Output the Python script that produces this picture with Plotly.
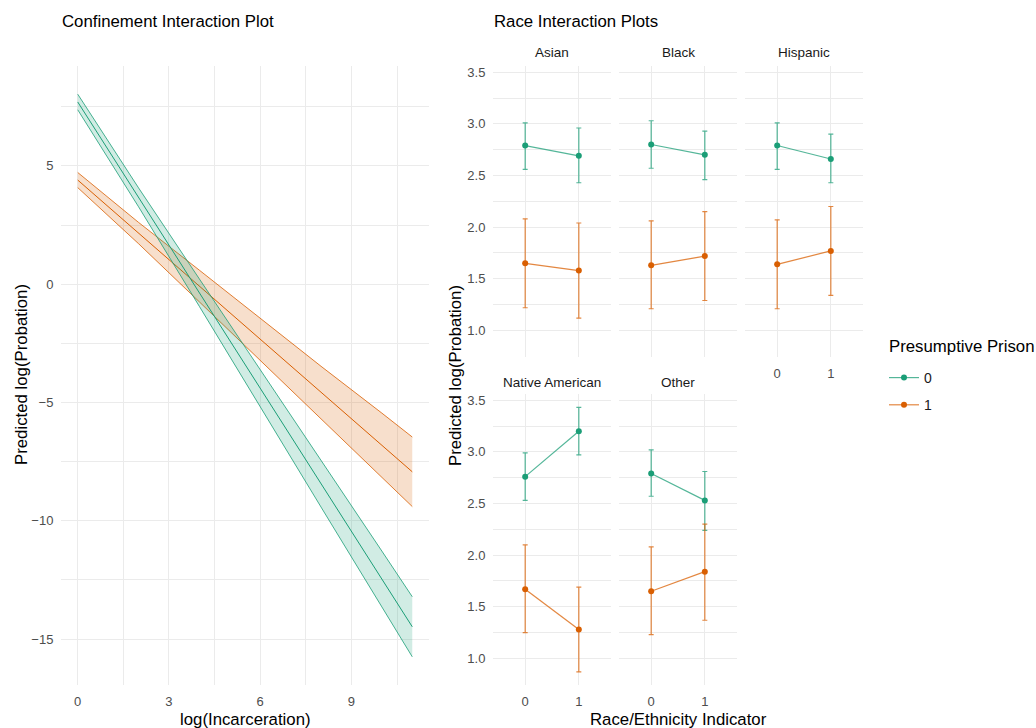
import plotly.graph_objects as go

# ---------------- data: left panel (confinement interaction) ----------------
incar_x = [0, 2, 4, 6, 8, 10, 11]
pp0_fit = [7.70, 3.67, -0.36, -4.40, -8.43, -12.46, -14.48]
pp0_upper = [8.03, 4.07, 0.22, -3.60, -7.44, -11.28, -13.21]
pp0_lower = [7.37, 3.27, -0.94, -5.20, -9.42, -13.64, -15.75]
pp1_fit = [4.40, 2.16, -0.08, -2.33, -4.57, -6.81, -7.93]
pp1_upper = [4.72, 2.61, 0.59, -1.45, -3.47, -5.45, -6.46]
pp1_lower = [4.08, 1.71, -0.75, -3.21, -5.67, -8.17, -9.40]
left_xticks = [0, 3, 6, 9]
left_yticks = [-15, -10, -5, 0, 5]

# ---------------- data: right panels (race interaction) ----------------
races = ["Asian", "Black", "Hispanic", "Native American", "Other"]
race_indicator = [0, 1]
race_ticklabels = ["0", "1"]
pp0_est = [[2.79, 2.69], [2.80, 2.70], [2.79, 2.66], [2.76, 3.20], [2.79, 2.53]]
pp0_lo = [[2.56, 2.43], [2.57, 2.46], [2.56, 2.43], [2.53, 2.97], [2.57, 2.24]]
pp0_hi = [[3.01, 2.96], [3.03, 2.93], [3.01, 2.90], [2.99, 3.43], [3.02, 2.81]]
pp1_est = [[1.65, 1.58], [1.63, 1.72], [1.64, 1.77], [1.67, 1.28], [1.65, 1.84]]
pp1_lo = [[1.22, 1.12], [1.21, 1.29], [1.21, 1.34], [1.25, 0.87], [1.23, 1.37]]
pp1_hi = [[2.08, 2.04], [2.06, 2.15], [2.07, 2.20], [2.10, 1.69], [2.08, 2.30]]
right_yticks = [1.0, 1.5, 2.0, 2.5, 3.0, 3.5]
right_yticklabels = ["1.0", "1.5", "2.0", "2.5", "3.0", "3.5"]
legend_labels = ["0", "1"]

# ---------------- styling ----------------
W, H = 1036, 728
FONT = "Liberation Sans, Arial, sans-serif"
GREEN = "#1B9E77"
ORANGE = "#D95F02"
GREEN_FILL = "rgba(27,158,119,0.2)"
ORANGE_FILL = "rgba(217,95,2,0.2)"
GREEN_SOFT = "rgba(27,158,119,0.75)"
ORANGE_SOFT = "rgba(217,95,2,0.75)"
GRID = "#EBEBEB"
TICKC = "#4D4D4D"
TITLE_SIZE = 16.8


def px(p):
    return p / W


def py(p):
    return 1 - p / H


fig = go.Figure()

# ---------- left panel ----------
for fit, up, lo, col, fill in [
    (pp1_fit, pp1_upper, pp1_lower, ORANGE, ORANGE_FILL),
    (pp0_fit, pp0_upper, pp0_lower, GREEN, GREEN_FILL),
]:
    fig.add_trace(go.Scatter(x=incar_x + incar_x[::-1], y=up + lo[::-1], fill="toself",
                             fillcolor=fill, line=dict(width=0), mode="lines",
                             showlegend=False, hoverinfo="skip", xaxis="x", yaxis="y"))
    for arr, w in [(up, 0.8), (lo, 0.8), (fit, 1.0)]:
        fig.add_trace(go.Scatter(x=incar_x, y=arr, mode="lines", line=dict(color=col, width=w),
                                 showlegend=False, xaxis="x", yaxis="y"))

# ---------- right facets ----------
cols = [(493, 611), (619, 737), (745, 863)]
rows = [(66, 357), (394, 685)]
facet_pos = [(0, 0), (0, 1), (0, 2), (1, 0), (1, 1)]

for i, race in enumerate(races):
    ax = i + 2
    for est, lo, hi, col, soft, name in [
        (pp0_est[i], pp0_lo[i], pp0_hi[i], GREEN, GREEN_SOFT, legend_labels[0]),
        (pp1_est[i], pp1_lo[i], pp1_hi[i], ORANGE, ORANGE_SOFT, legend_labels[1]),
    ]:
        fig.add_trace(go.Scatter(
            x=race_indicator, y=est, mode="lines+markers", name=name,
            legendgroup=name, showlegend=(i == 0),
            line=dict(color=soft, width=1.2), marker=dict(color=col, size=6),
            error_y=dict(type="data", symmetric=False,
                         array=[h - e for h, e in zip(hi, est)],
                         arrayminus=[e - l for e, l in zip(est, lo)],
                         color=soft, thickness=1.2, width=2.5),
            xaxis=f"x{ax}", yaxis=f"y{ax}"))

layout = dict(
    width=W, height=H, margin=dict(l=0, r=0, t=0, b=0),
    paper_bgcolor="white", plot_bgcolor="white",
    font=dict(family=FONT, size=13, color="#1A1A1A"),
    showlegend=True,
    legend=dict(x=px(884), y=py(362), xanchor="left", yanchor="top",
                font=dict(size=14, color="#1A1A1A"), tracegroupgap=6,
                bgcolor="rgba(0,0,0,0)"),
)

common = dict(showline=False, zeroline=False, gridcolor=GRID, gridwidth=1.1,
              ticks="outside", tickcolor="rgba(0,0,0,0)", ticklen=4,
              tickfont=dict(size=13, color=TICKC))

layout["xaxis"] = dict(domain=[px(61), px(429)], range=[-0.55, 11.55], anchor="y",
                       tickvals=left_xticks,
                       minor=dict(tickvals=[1.5, 4.5, 7.5, 10.5], showgrid=True, gridcolor=GRID, gridwidth=0.8),
                       **common)
layout["yaxis"] = dict(domain=[py(685), py(66)], range=[-16.94, 9.22], anchor="x",
                       tickvals=left_yticks,
                       minor=dict(tickvals=[-12.5, -7.5, -2.5, 2.5, 7.5], showgrid=True, gridcolor=GRID, gridwidth=0.8),
                       **common)

for i, race in enumerate(races):
    ax = i + 2
    r, c = facet_pos[i]
    x0, x1 = cols[c]
    y0, y1 = rows[r]
    show_x = (r == 1) or (i == 2)
    show_y = (c == 0)
    layout[f"xaxis{ax}"] = dict(domain=[px(x0), px(x1)], range=[-0.6, 1.6], anchor=f"y{ax}",
                                tickvals=race_indicator, ticktext=race_ticklabels,
                                showticklabels=show_x, **common)
    layout[f"yaxis{ax}"] = dict(domain=[py(y1), py(y0)], range=[0.743, 3.56], anchor=f"x{ax}",
                                tickvals=right_yticks, ticktext=right_yticklabels,
                                showticklabels=show_y,
                                minor=dict(tickvals=[0.75, 1.25, 1.75, 2.25, 2.75, 3.25], showgrid=True,
                                           gridcolor=GRID, gridwidth=0.8),
                                **common)


def label(text, x, y, size, anchor="center", angle=0, color="#000000"):
    return dict(text=text, x=px(x), y=py(y), xref="paper", yref="paper",
                xanchor=anchor, yanchor="middle", showarrow=False, textangle=angle,
                font=dict(size=size, color=color))


annotations = [
    label("Confinement Interaction Plot", 60, 21, TITLE_SIZE, "left"),
    label("Race Interaction Plots", 492, 21, TITLE_SIZE, "left"),
    label("log(Incarceration)", 245, 719, TITLE_SIZE),
    label("Race/Ethnicity Indicator", 678, 719, TITLE_SIZE),
    label("Predicted log(Probation)", 22, 375, TITLE_SIZE, angle=-90),
    label("Predicted log(Probation)", 455, 376, TITLE_SIZE, angle=-90),
    label("Presumptive Prison", 887, 346, TITLE_SIZE, "left"),
]
for i, race in enumerate(races):
    r, c = facet_pos[i]
    x0, x1 = cols[c]
    ystrip = 53 if r == 0 else 382
    annotations.append(label(race, (x0 + x1) / 2, ystrip, 13.5, color="#1A1A1A"))
layout["annotations"] = annotations

fig.update_layout(**layout)
fig.write_html("out.html")
